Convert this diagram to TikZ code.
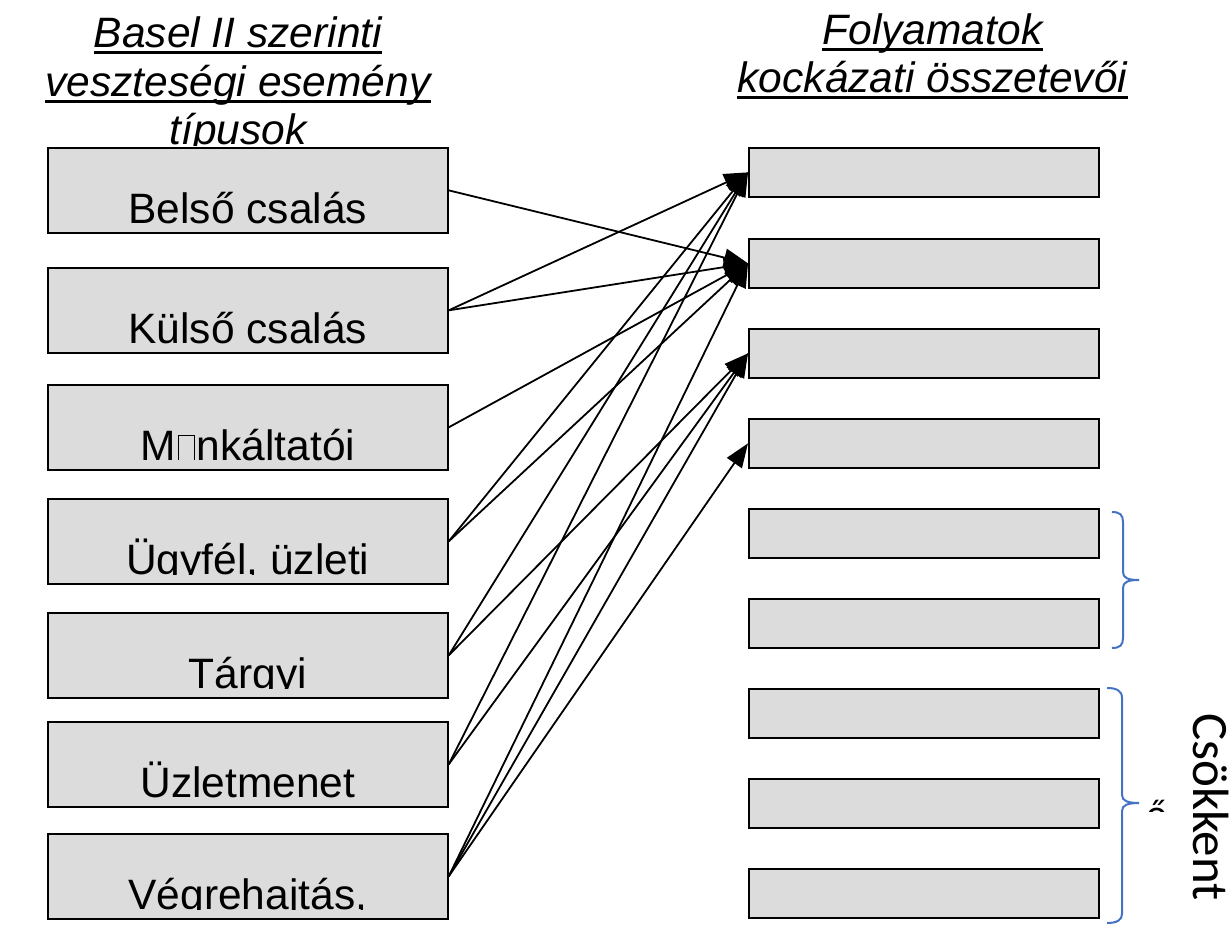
\documentclass[tikz,border=0pt]{standalone}
\usepackage{fontspec}
\setmainfont{Liberation Sans}
\newfontfamily\calibri{Carlito}
\usepackage{xcolor}
\usepackage{tikz}
\usetikzlibrary{arrows.meta}
\definecolor{boxgray}{RGB}{220,220,220}
\definecolor{braceblue}{RGB}{68,114,196}
\newcommand{\nobox}{\kern0.06em\hbox{\vrule width 0.7pt height 0.6em\vbox to 0.6em{\hrule width 0.34em height 0.7pt\vfil}\vrule width 0.7pt height 0.6em}\kern0.06em}

\begin{document}
\begin{tikzpicture}[x=10pt,y=10pt]
\tikzstyle{every node}+=[inner sep=0pt]
\tikzstyle{leftbox}=[draw=black, line width=1.7pt, fill=boxgray, minimum width=400pt, minimum height=85pt, anchor=north west]
\tikzstyle{rightbox}=[draw=black, line width=1.7pt, fill=boxgray, minimum width=350pt, minimum height=49pt, anchor=north west]
\tikzstyle{boxtext}=[anchor=base, font=\fontsize{42.5}{48}\selectfont]
\tikzstyle{title}=[anchor=base, font=\fontsize{42.5}{48}\selectfont\itshape]
\tikzstyle{uline}=[line width=3pt]
\tikzstyle{link}=[line width=1.8pt, -{Triangle[length=24pt,width=18pt]}]
\tikzstyle{brace}=[braceblue, line width=2pt]
\useasboundingbox (0,0) rectangle (123.2,-93.1);
\node [title] (basel1) at (23.8,-4.75) {Basel II szerinti};
\node [title] (basel2) at (23.8,-9.65) {veszteségi esemény};
\begin{scope}
\clip (0,0) rectangle (60,-14.55);
\node [title] (basel3) at (23.8,-14.5) {típusok};
\end{scope}
\draw [uline] ([yshift=-5pt]basel1.base west) -- ([yshift=-5pt]basel1.base east);
\draw [uline] ([yshift=-5pt]basel2.base west) -- ([yshift=-5pt]basel2.base east);
\node [title] (foly1) at (93.25,-4.5) {Folyamatok};
\node [title] (foly2) at (93.25,-9.3) {kockázati összetevői};
\draw [uline] ([yshift=-5pt]foly1.base west) -- ([yshift=-5pt]foly1.base east);
\draw [uline] ([yshift=-5pt]foly2.base west) -- ([yshift=-5pt]foly2.base east);
\foreach \nm/\txt/\top in {belso/{Belső csalás}/14.7, kulso/{Külső csalás}/26.7, munka/{M\nobox nkáltatói}/38.4, ugyfel/{Ügyfél, üzleti}/49.8, targyi/{Tárgyi}/61.2, uzlet/{Üzletmenet}/72.1, vegre/{Végrehajtás,}/83.3}
{
\node [leftbox] (\nm) at (4.7,-\top) {};
\begin{scope}
\clip (\nm.north west) rectangle ([yshift=10pt]\nm.south east);
\node [boxtext] (\nm-txt) at ([yshift=10.5pt]\nm.south) {\txt};
\end{scope}
}
\foreach \i/\top in {1/14.7, 2/23.8, 3/32.8, 4/41.8, 5/50.8, 6/59.8, 7/68.8, 8/77.8, 9/86.8}
\node [rightbox] (f\i) at (74.8,-\top) {};
\draw [link] (belso.east) -- (f2.west);
\draw [link] (kulso.east) -- (f1.west);
\draw [link] (kulso.east) -- (f2.west);
\draw [link] (munka.east) -- (f2.west);
\draw [link] (ugyfel.east) -- (f1.west);
\draw [link] (ugyfel.east) -- (f2.west);
\draw [link] (targyi.east) -- (f1.west);
\draw [link] (targyi.east) -- (f3.west);
\draw [link] (uzlet.east) -- (f1.west);
\draw [link] (uzlet.east) -- (f3.west);
\draw [link] (vegre.east) -- (f2.west);
\draw [link] (vegre.east) -- (f3.west);
\draw [link] (vegre.east) -- (f4.west);
\draw [brace] (111.2,-51.2) .. controls (112.0,-51.2) and (112.3,-51.5) .. (112.3,-52.2) -- (112.3,-57.2) .. controls (112.3,-57.8) and (112.8,-58.0) .. (113.9,-58.0) .. controls (112.8,-58.0) and (112.3,-58.2) .. (112.3,-58.8) -- (112.3,-63.8) .. controls (112.3,-64.5) and (112.0,-64.8) .. (111.2,-64.8);
\draw [brace] (110.7,-68.8) .. controls (111.7,-68.8) and (112.2,-69.1) .. (112.2,-69.8) -- (112.2,-79.5) .. controls (112.2,-80.1) and (112.8,-80.3) .. (113.9,-80.3) .. controls (112.8,-80.3) and (112.2,-80.5) .. (112.2,-81.1) -- (112.2,-91.4) .. controls (112.2,-92.0) and (111.7,-92.3) .. (110.7,-92.3);
\begin{scope}
\clip (114.5,-79.0) rectangle (117.0,-81.1);
\node [anchor=base, font=\calibri\fontsize{40}{48}\selectfont] (jel) at (115.7,-82.7) {ő};
\end{scope}
\node [rotate=-90, anchor=base west, font=\calibri\fontsize{51}{58}\selectfont] (csokk) at (119.3,-71.3) {Csökkent};
\end{tikzpicture}
\end{document}
